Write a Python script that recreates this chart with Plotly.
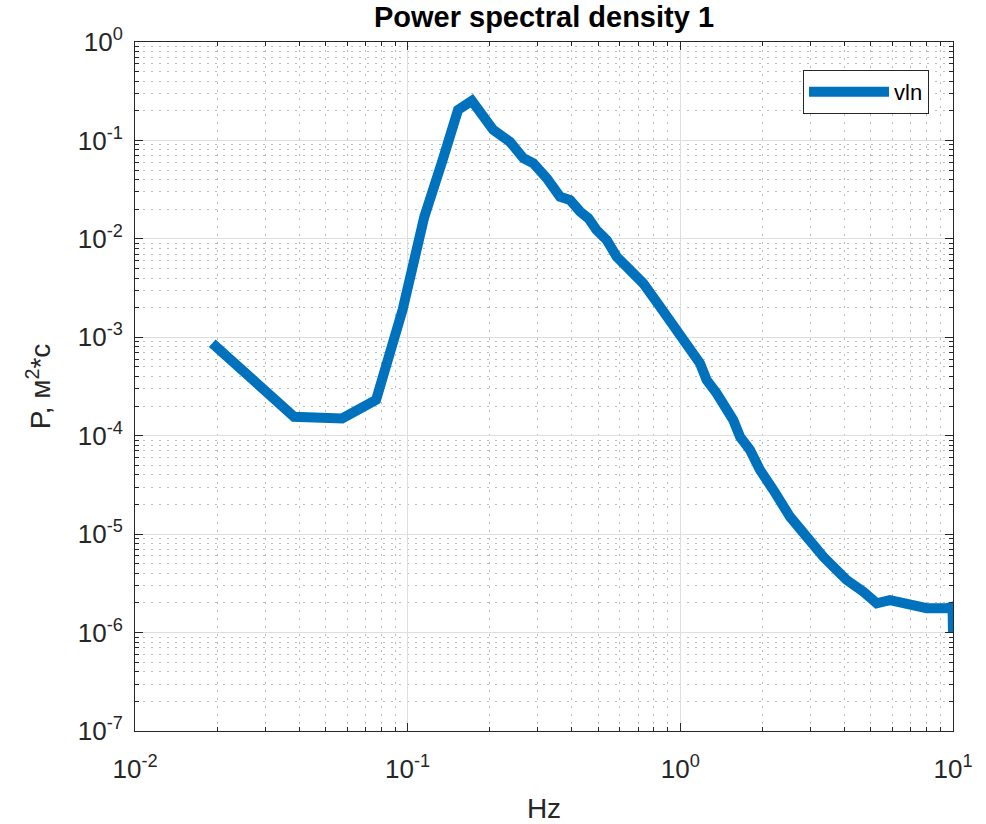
import plotly.graph_objects as go

# Frequencies (Hz) and PSD values
freq_hz = [0.0192, 0.0383, 0.0575, 0.0766, 0.0958, 0.115, 0.134, 0.153, 0.172,
           0.206, 0.237, 0.266, 0.289, 0.324, 0.362, 0.394, 0.429, 0.460, 0.493,
           0.537, 0.584, 0.731, 0.842, 0.956, 0.997, 1.181, 1.249, 1.359, 1.564,
           1.655, 1.801, 1.960, 2.193, 2.525, 2.906, 3.163, 3.344, 3.64, 4.075,
           4.69, 5.25, 5.87, 6.76, 8.01, 9.48, 9.96, 10.0]
psd_vln = [8.69e-4, 1.56e-4, 1.50e-4, 2.31e-4, 1.9e-3, 1.66e-2, 6.18e-2, 0.204, 0.253,
           0.128, 0.097, 0.0658, 0.0586, 0.0412, 0.0268, 0.0248, 0.0189, 0.0162, 0.0123,
           0.00973, 0.00659, 0.00353, 0.00205, 0.00128, 0.00101, 5.44e-4, 3.68e-4, 2.70e-4, 1.44e-4,
           9.77e-5, 7.16e-5, 4.49e-5, 2.81e-5, 1.50e-5, 9.42e-6, 6.90e-6, 5.90e-6, 4.67e-6, 3.42e-6,
           2.60e-6, 1.98e-6, 2.14e-6, 1.91e-6, 1.77e-6, 1.77e-6, 1.83e-6, 1.0e-6]

x_tick_vals = [1e-2, 1e-1, 1e0, 1e1]
x_tick_text = ["10<sup>-2</sup>", "10<sup>-1</sup>", "10<sup>0</sup>", "10<sup>1</sup>"]
y_tick_vals = [1e-7, 1e-6, 1e-5, 1e-4, 1e-3, 1e-2, 1e-1, 1e0]
y_tick_text = ["10<sup>-7</sup>", "10<sup>-6</sup>", "10<sup>-5</sup>", "10<sup>-4</sup>",
               "10<sup>-3</sup>", "10<sup>-2</sup>", "10<sup>-1</sup>", "10<sup>0</sup>"]

x_minor = [m * 10.0 ** e for e in (-2, -1, 0) for m in range(2, 10)]
y_minor = [m * 10.0 ** e for e in range(-7, 0) for m in range(2, 10)]

FONT = "Liberation Sans, Arial, Helvetica, sans-serif"
AX = "#262626"

W, H = 986, 824

fig = go.Figure()
fig.add_trace(go.Scatter(x=freq_hz, y=psd_vln, mode="lines", name="vln",
                         line=dict(color="#0072BD", width=10)))

axis_common = dict(
    type="log", showline=True, linecolor=AX, linewidth=1, mirror="ticks",
    ticks="inside", ticklen=8, tickwidth=1, tickcolor=AX,
    showgrid=True, gridcolor="#dedede", gridwidth=1,
    tickfont=dict(family=FONT, size=26, color=AX),
    zeroline=False, automargin=False,
)
minor_common = dict(ticks="inside", ticklen=4, tickcolor=AX, showgrid=True,
                    gridcolor="#bcbcbc", griddash="1.5px,6.5px", gridwidth=1)

fig.update_xaxes(**axis_common, range=[-2, 1], tickvals=x_tick_vals, ticktext=x_tick_text,
                 ticklabelstandoff=15,
                 minor=dict(tickvals=x_minor, **minor_common),
                 title=dict(text="Hz", font=dict(family=FONT, size=28, color=AX), standoff=17))
fig.update_yaxes(**axis_common, range=[-7, 0], tickvals=y_tick_vals, ticktext=y_tick_text,
                 ticklabelstandoff=6,
                 minor=dict(tickvals=y_minor, **minor_common),
                 title=dict(text="P, м<sup>2</sup>*с", font=dict(family=FONT, size=28, color=AX),
                            standoff=18))

fig.update_layout(
    width=W, height=H,
    margin=dict(l=135, r=33, t=42, b=93),
    paper_bgcolor="white", plot_bgcolor="white",
    title=dict(text="<b>Power spectral density 1</b>", x=0.5517, xanchor="center",
               y=1 - 17 / H, yanchor="middle", yref="container",
               font=dict(family=FONT, size=29, color="black")),
    showlegend=True,
    legend=dict(x=0.9707, y=0.9594, xanchor="right", yanchor="top",
                bgcolor="white", bordercolor=AX, borderwidth=1,
                font=dict(family=FONT, size=22, color="black"),
                itemwidth=80),
)

fig.write_html("out.html", config={"displayModeBar": False},
               post_script="document.body.style.margin='0';document.body.style.overflow='hidden';")
